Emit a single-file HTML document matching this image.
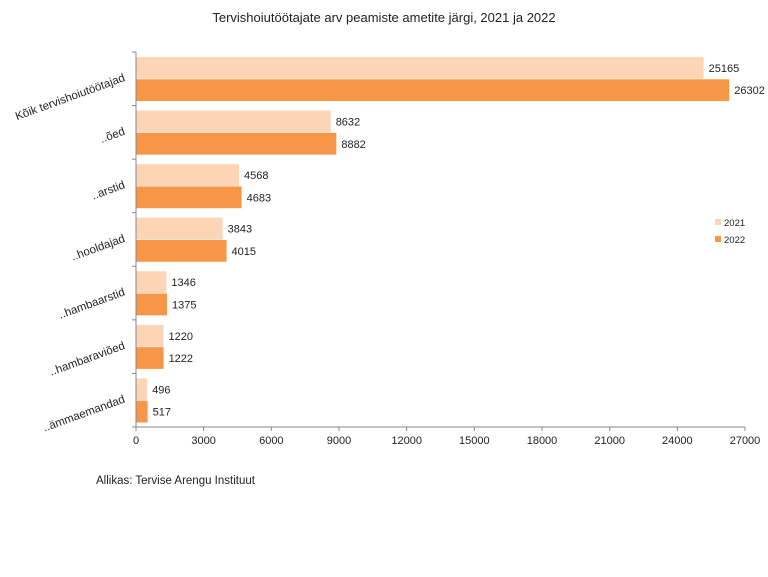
<!DOCTYPE html>
<html><head><meta charset="utf-8"><style>
body{margin:0;background:#fff;font-family:"Liberation Sans",sans-serif}
svg text{font-family:"Liberation Sans",sans-serif;fill:#222}
</style></head><body>
<svg id="chart" width="768" height="572" xmlns="http://www.w3.org/2000/svg">
<text x="384" y="22" text-anchor="middle" font-size="13">Tervishoiutöötajate arv peamiste ametite järgi, 2021 ja 2022</text>
<g id="plot"></g>
<text x="96" y="484" font-size="11.5">Allikas: Tervise Arengu Instituut</text>
<g>
<rect x="715" y="219" width="6" height="6" fill="#fbd5b5"/>
<text x="724" y="226" font-size="9.5">2021</text>
<rect x="715" y="236" width="6" height="6" fill="#f79646"/>
<text x="724" y="243" font-size="9.5">2022</text>
</g>
</svg>
<script>
const categories=["Kõik tervishoiutöötajad","..õed","..arstid","..hooldajad","..hambaarstid","..hambaraviõed","..ämmaemandad"];
const values2021=[25165,8632,4568,3843,1346,1220,496];
const values2022=[26302,8882,4683,4015,1375,1222,517];
const xTicks=[0,3000,6000,9000,12000,15000,18000,21000,24000,27000];
const NS="http://www.w3.org/2000/svg";
const X0=136,X1=745,XMAX=27000,Y0=52,Y1=427;
const band=(Y1-Y0)/categories.length;
const x=v=>X0+v/XMAX*(X1-X0);
const yb=i=>Y0+i*band;
const g=document.getElementById('plot');
function mk(t,a){const e=document.createElementNS(NS,t);for(const k in a)e.setAttribute(k,a[k]);g.appendChild(e);return e;}
categories.forEach((c,i)=>{
  const top=yb(i)+5,bh=(band-10)/2;
  [[values2021,"#fbd5b5","2021",0],[values2022,"#f79646","2022",1]].forEach(([arr,col,s,k])=>{
    const y=top+k*(bh+0.5);
    const r=mk('rect',{x:X0,y:y,width:x(arr[i])-X0,height:bh,fill:col});
    
    
    const t=mk('text',{x:x(arr[i])+5,y:y+bh/2+4,'font-size':'11'});
    t.textContent=arr[i];
    
    
  });
  const cy=yb(i)+band/2;
  const l=mk('text',{x:125,y:cy+2,'font-size':'11.5','text-anchor':'end',transform:'rotate(-20 125 '+cy+')'});
  l.textContent=c;
  
  
});
for(let i=0;i<=categories.length;i++){
  const t=mk('line',{x1:X0-4,x2:X0,y1:yb(i),y2:yb(i),stroke:'#888'});
  
  
}
const ya=mk('line',{x1:X0,x2:X0,y1:Y0,y2:Y1,stroke:'#888'});


const xa=mk('line',{x1:X0,x2:X1,y1:Y1,y2:Y1,stroke:'#888'});


xTicks.forEach(v=>{
  const tk=mk('line',{x1:x(v),x2:x(v),y1:Y1,y2:Y1+4,stroke:'#888'});
  
  
  const t=mk('text',{x:x(v),y:Y1+17,'font-size':'11','text-anchor':'middle'});
  t.textContent=v;
  
  
});
</script>
</body></html>
